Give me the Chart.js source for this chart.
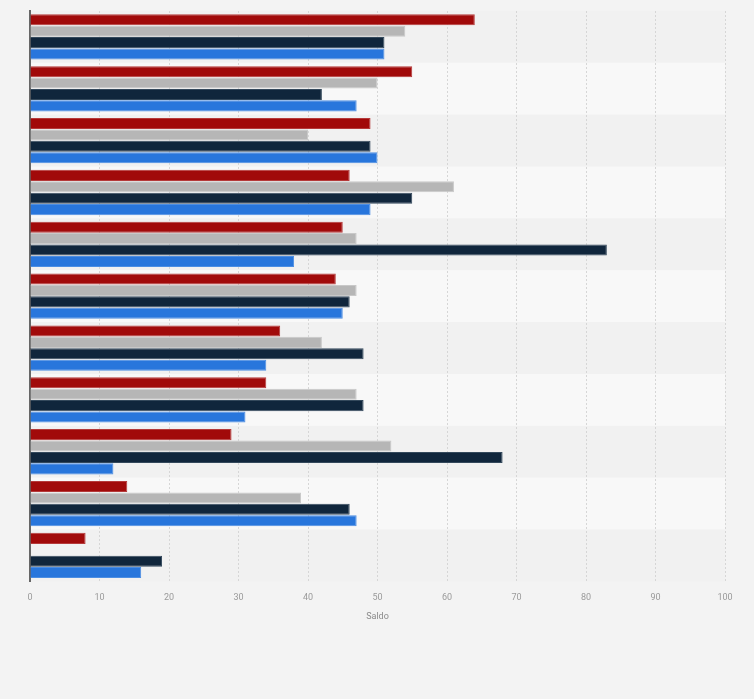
<!DOCTYPE html>
<html>
<head>
<meta charset="utf-8">
<script src="https://cdn.jsdelivr.net/npm/chart.js@4/dist/chart.umd.min.js"></script>
<style>
  html, body { margin: 0; padding: 0; background: #f3f3f3; }
  #chart { display: block; }
</style>
</head>
<body>
<canvas id="chart" width="754" height="699"></canvas>
<script>
// categories are not labelled in the picture
const categories = ['1', '2', '3', '4', '5', '6', '7', '8', '9', '10', '11'];
const xTicks = [0, 10, 20, 30, 40, 50, 60, 70, 80, 90, 100];

const seriesRed   = [64, 55, 49, 46, 45, 44, 36, 34, 29, 14, 8];
const seriesGray  = [54, 50, 40, 61, 47, 47, 42, 47, 52, 39, null];
const seriesNavy  = [51, 42, 49, 55, 83, 46, 48, 48, 68, 46, 19];
const seriesBlue  = [51, 47, 50, 49, 38, 45, 34, 31, 12, 47, 16];

// alternating row stripes behind the bars
const stripes = {
  id: 'stripes',
  beforeDraw(chart) {
    const { ctx, chartArea, scales } = chart;
    const y = scales.y;
    const n = categories.length;
    const h = (chartArea.bottom - chartArea.top) / n;
    ctx.save();
    categories.forEach((c, i) => {
      const mid = y.getPixelForValue(i);
      ctx.fillStyle = i % 2 === 0 ? '#f1f1f1' : '#f8f8f8';
      ctx.fillRect(chartArea.left, mid - h / 2, chartArea.right - chartArea.left, h);
    });
    ctx.restore();
  }
};

function bar(label, data, color, border) {
  return {
    label: label,
    data: data,
    backgroundColor: color,
    borderColor: border,
    borderWidth: 1,
    barPercentage: 0.97,
    categoryPercentage: 0.88
  };
}

new Chart(document.getElementById('chart'), {
  type: 'bar',
  data: {
    labels: categories,
    datasets: [
      bar('Serie 1', seriesRed, '#a10a0a', '#b53a3a'),
      bar('Serie 2', seriesGray, '#b6b6b6', '#c8c8c8'),
      bar('Serie 3', seriesNavy, '#10263c', '#34495c'),
      bar('Serie 4', seriesBlue, '#2876dc', '#4c8ee3')
    ]
  },
  options: {
    indexAxis: 'y',
    responsive: false,
    animation: false,
    layout: { padding: { left: 30, right: 29, top: 11, bottom: 73 } },
    plugins: {
      legend: { display: false },
      tooltip: { enabled: false }
    },
    scales: {
      x: {
        min: 0,
        max: 100,
        afterBuildTicks: axis => { axis.ticks = xTicks.map(v => ({ value: v })); },
        ticks: {
          color: '#9a9a9a',
          font: { family: 'Roboto', size: 9 },
          padding: 11
        },
        grid: {
          color: '#d6d6d6',
          drawTicks: false
        },
        border: { display: false, dash: [2, 2] },
        title: {
          display: true,
          text: 'Saldo',
          color: '#8a8a8a',
          font: { family: 'Roboto', size: 9 },
          padding: { top: -3 }
        }
      },
      y: {
        ticks: { display: false },
        grid: { display: false, drawTicks: false },
        border: { display: true, color: '#666666', width: 2 }
      }
    }
  },
  plugins: [stripes]
});
</script>
</body>
</html>
